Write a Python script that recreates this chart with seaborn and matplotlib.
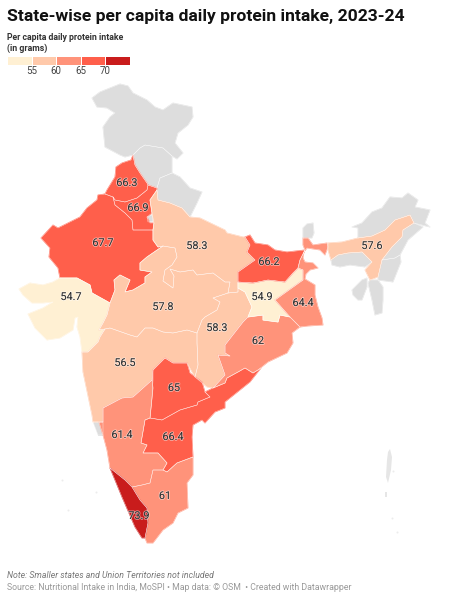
import matplotlib
matplotlib.use("Agg")
import matplotlib.pyplot as plt
import matplotlib.patheffects as pe
from matplotlib.colors import ListedColormap
import seaborn as sns
import numpy as np
import pandas as pd

sns.set_theme(style="white")
plt.rcParams['font.family'] = ['Roboto', 'DejaVu Sans']

# legend
bin_edges = [55, 60, 65, 70]
bin_colors = ['#fff0d3', '#ffc9aa', '#ff937a', '#ff5f4b', '#c91c1c']
no_data = '#dddddd'

# state values
state_names = ['Punjab', 'Haryana', 'Rajasthan', 'Uttar Pradesh', 'Gujarat', 'Madhya Pradesh',
               'Chhattisgarh', 'Maharashtra', 'Telangana', 'Andhra Pradesh', 'Karnataka',
               'Tamil Nadu', 'Kerala', 'Odisha', 'Jharkhand', 'Bihar', 'West Bengal', 'Assam']
state_values = [66.3, 66.9, 67.7, 58.3, 54.7, 57.8, 58.3, 56.5, 65, 66.4, 61.4, 61, 73.9, 62, 54.9, 66.2, 64.4, 57.6]
label_x = [127, 138, 103, 197, 71, 163, 217, 125, 174, 173, 122, 165, 139, 258, 262, 269, 303, 372]
label_y = [183, 208, 243, 246, 297, 307, 328, 363, 388, 437, 435, 496, 516, 341, 297, 262, 303, 246]

punjab = [(133, 155), (131, 160), (122, 163), (116, 167), (115, 177), (107, 190), (105, 194), (113, 197), (115, 200),
          (125, 202), (137, 198), (147, 190), (148, 185), (147, 183), (140, 173), (135, 165)]
haryana = [(113, 197), (115, 200), (125, 202), (137, 198), (147, 190), (148, 185), (157, 188), (157, 190), (150, 200),
           (152, 213), (147, 217), (150, 223), (154, 223), (153, 230), (148, 230), (133, 230), (132, 220), (125, 213),
           (115, 205)]
rajasthan = [(105, 194), (113, 197), (115, 205), (125, 213), (132, 220), (133, 230), (148, 230), (153, 230), (153, 240),
             (158, 247), (163, 246), (147, 257), (140, 263), (140, 270), (152, 272), (145, 277), (145, 283), (133, 290),
             (125, 292), (130, 280), (120, 275), (114, 280), (115, 290), (110, 303), (92, 293), (90, 285), (77, 278),
             (60, 278), (58, 268), (49, 257), (50, 248), (41, 238), (53, 225), (58, 228), (80, 217), (87, 208),
             (97, 200), (98, 195)]
uttar_pradesh = [(157, 190), (150, 200), (152, 213), (154, 223), (153, 230), (153, 240), (158, 247), (163, 246),
                 (175, 248), (177, 257), (172, 265), (165, 270), (163, 281), (173, 288), (174, 276), (170, 269),
                 (180, 272), (193, 270), (197, 275), (213, 273), (225, 282), (230, 282), (228, 293), (238, 292),
                 (238, 272), (255, 260), (247, 252), (250, 245), (245, 237), (243, 237), (227, 233), (225, 230),
                 (200, 218), (190, 217), (182, 208), (170, 203), (158, 200)]
gujarat = [(19, 289), (30, 283), (43, 285), (53, 282), (60, 278), (77, 278), (90, 285), (92, 293), (110, 303), (107, 315),
           (103, 323), (99, 330), (105, 329), (100, 337), (98, 342), (88, 352), (82, 352), (80, 337), (77, 327),
           (78, 317), (75, 318), (73, 330), (60, 338), (47, 340), (35, 328), (28, 314), (43, 308), (53, 302),
           (43, 303), (32, 303), (23, 295)]
madhya_pradesh = [(163, 246), (147, 257), (140, 263), (140, 270), (152, 272), (145, 277), (145, 283), (133, 290),
                  (125, 292), (130, 280), (120, 275), (114, 280), (115, 290), (110, 303), (107, 315), (103, 323),
                  (99, 330), (105, 329), (110, 328), (130, 335), (137, 337), (145, 328), (153, 328), (163, 332),
                  (173, 333), (187, 330), (197, 333), (202, 320), (205, 317), (217, 310), (220, 302), (213, 298),
                  (228, 293), (230, 282), (225, 282), (213, 273), (197, 275), (193, 270), (180, 272), (170, 269),
                  (174, 276), (173, 288), (163, 281), (165, 270), (172, 265), (177, 257), (175, 248)]
chhattisgarh = [(228, 293), (213, 298), (220, 302), (217, 310), (205, 317), (202, 320), (197, 333), (197, 343),
                (198, 365), (195, 377), (207, 387), (213, 388), (225, 375), (218, 355), (230, 356), (225, 353),
                (225, 345), (243, 322), (248, 317), (252, 307), (245, 292), (238, 288), (238, 292)]
maharashtra = [(82, 352), (83, 372), (92, 415), (93, 422), (103, 422), (103, 408), (122, 398), (133, 397), (152, 380),
               (153, 370), (165, 358), (173, 363), (187, 363), (195, 377), (198, 365), (197, 343), (197, 333),
               (187, 330), (173, 333), (163, 332), (153, 328), (145, 328), (137, 337), (130, 335), (110, 328),
               (105, 329), (100, 337), (98, 342), (88, 352)]
telangana = [(165, 358), (173, 363), (187, 363), (190, 373), (202, 382), (205, 392), (210, 397), (198, 402), (197, 405),
             (180, 410), (162, 420), (150, 418), (152, 398), (153, 380), (153, 370)]
andhra_pradesh = [(205, 392), (213, 388), (225, 383), (227, 378), (238, 372), (245, 368), (253, 373), (261, 368), (250, 382),
                  (240, 390), (225, 402), (225, 408), (215, 412), (205, 423), (202, 420), (193, 425), (192, 437),
                  (193, 457), (177, 463), (167, 472), (163, 470), (167, 463), (158, 453), (150, 453), (143, 453),
                  (147, 445), (141, 443), (145, 420), (150, 418), (162, 420), (180, 410), (197, 405), (198, 402),
                  (210, 397)]
karnataka = [(103, 408), (122, 398), (133, 397), (152, 380), (153, 388), (152, 398), (150, 418), (145, 420), (141, 443),
             (147, 445), (143, 453), (158, 453), (167, 463), (163, 470), (153, 470), (150, 483), (142, 485), (132, 487),
             (125, 480), (110, 468), (107, 450), (103, 435), (99, 422), (103, 422)]
tamil_nadu = [(193, 457), (193, 475), (187, 483), (188, 508), (178, 513), (173, 523), (163, 530), (153, 543), (147, 543),
              (145, 538), (148, 523), (147, 508), (140, 500), (132, 487), (142, 485), (150, 483), (153, 470), (163, 470),
              (167, 472), (177, 463)]
kerala = [(110, 468), (125, 480), (132, 487), (140, 500), (147, 508), (148, 523), (145, 538), (142, 538), (135, 527),
          (122, 497), (115, 480)]
odisha = [(243, 322), (248, 317), (263, 315), (263, 320), (278, 322), (280, 315), (290, 317), (300, 327), (292, 333),
          (293, 343), (287, 353), (268, 362), (258, 370), (253, 373), (245, 368), (238, 372), (227, 378), (225, 383),
          (213, 388), (225, 375), (218, 355), (230, 356), (225, 353), (225, 345)]
jharkhand = [(238, 282), (253, 283), (268, 280), (285, 282), (293, 273), (298, 268), (303, 270), (303, 280), (275, 300),
             (290, 317), (280, 315), (278, 322), (263, 320), (263, 315), (248, 317), (252, 307), (245, 292), (238, 288)]
bihar = [(245, 237), (250, 235), (255, 243), (268, 245), (275, 250), (287, 252), (305, 250), (300, 260), (298, 268),
         (293, 273), (285, 282), (268, 280), (253, 283), (238, 282), (238, 272), (255, 260), (247, 252), (250, 245)]
west_bengal = [(303, 238), (308, 238), (313, 245), (327, 243), (328, 247), (325, 255), (320, 250), (307, 248), (304, 252),
               (303, 258), (305, 262), (313, 263), (318, 268), (310, 270), (306, 274), (305, 279), (315, 285), (315, 295),
               (318, 307), (322, 318), (323, 325), (308, 326), (300, 327), (290, 317), (275, 300), (303, 280), (303, 270),
               (298, 268), (300, 260), (305, 250), (303, 245)]
assam = [(328, 243), (342, 242), (358, 238), (372, 236), (385, 230), (395, 220), (410, 215), (414, 223), (403, 230),
         (402, 237), (392, 247), (382, 260), (378, 277), (370, 280), (365, 270), (372, 262), (362, 252), (348, 253),
         (338, 255), (331, 260), (328, 250)]
state_shapes = [punjab, haryana, rajasthan, uttar_pradesh, gujarat, madhya_pradesh, chhattisgarh, maharashtra, telangana,
                andhra_pradesh, karnataka, tamil_nadu, kerala, odisha, jharkhand, bihar, west_bengal, assam]

# grey, not in the data
jammu_kashmir = [(92, 98), (100, 92), (110, 88), (120, 84), (128, 86), (133, 93), (147, 100), (155, 107), (163, 110),
                 (173, 103), (192, 107), (193, 117), (188, 125), (178, 133), (175, 143), (183, 153), (177, 159), (172, 156),
                 (163, 148), (157, 147), (145, 145), (140, 148), (133, 155), (125, 157), (120, 155), (105, 147), (103, 127),
                 (110, 117), (115, 113), (107, 108), (97, 107)]
himachal = [(133, 155), (140, 148), (145, 145), (157, 147), (163, 148), (172, 156), (172, 173), (160, 178), (157, 188),
            (148, 185), (147, 183), (140, 173), (135, 165)]
uttarakhand = [(157, 188), (160, 178), (172, 173), (180, 177), (190, 188), (202, 192), (197, 203), (190, 217), (182, 208),
               (170, 203), (158, 200), (157, 190)]
delhi = [(147, 217), (152, 215), (153, 221), (148, 222)]
goa = [(93, 422), (103, 422), (103, 435), (98, 435)]
sikkim = [(303, 228), (307, 224), (313, 223), (314, 233), (312, 238), (303, 238)]
arunachal = [(352, 227), (362, 223), (372, 212), (382, 208), (390, 197), (402, 198), (408, 193), (418, 200), (415, 207),
             (430, 210), (425, 223), (430, 227), (414, 223), (410, 215), (395, 220), (385, 230), (372, 236), (358, 238),
             (358, 228)]
meghalaya = [(331, 260), (338, 255), (348, 253), (362, 252), (372, 262), (365, 267), (350, 265), (340, 267), (332, 265)]
nagaland = [(403, 230), (414, 223), (423, 227), (408, 240), (400, 255), (395, 258), (382, 260), (392, 247), (402, 237)]
manipur = [(382, 260), (395, 258), (400, 255), (401, 262), (393, 282), (378, 280), (378, 277)]
mizoram = [(368, 283), (370, 280), (378, 280), (383, 287), (383, 300), (382, 313), (375, 315), (372, 300)]
tripura = [(352, 290), (362, 280), (367, 278), (367, 287), (362, 300), (358, 300), (353, 295)]
andaman = [(390, 449), (392, 457), (391, 470), (388, 483), (386, 477), (387, 460), (388, 452)]
little_andaman = [(385, 492), (387, 492), (387, 497), (385, 497)]
grey_shapes = [jammu_kashmir, himachal, uttarakhand, delhi, goa, sikkim, arunachal, meghalaya, nagaland, manipur,
               mizoram, tripura]
island_shapes = [andaman, little_andaman]
dot_x = [392, 397, 62, 68, 96, 393]
dot_y = [518, 532, 480, 510, 492, 471]

fig = plt.figure(figsize=(4.5, 6), dpi=100, facecolor='white')
ax = fig.add_axes([0, 0, 1, 1])
ax.set_xlim(0, 450)
ax.set_ylim(600, 0)
ax.axis('off')


def draw_shape(shape, colour):
    # own-colour edge closes the hairline gaps between traced neighbours
    xs, ys = zip(*shape)
    ax.fill(xs, ys, facecolor=colour, edgecolor=colour, linewidth=0.6, joinstyle='round')


def draw_border(shape):
    xs, ys = zip(*(shape + shape[:1]))
    ax.plot(xs, ys, color='white', linewidth=0.35, alpha=0.7)


df = pd.DataFrame({'state': state_names, 'value': state_values, 'x': label_x, 'y': label_y})
df['bin'] = np.digitize(df['value'], bin_edges)

for shape in grey_shapes:
    draw_shape(shape, no_data)
for shape in island_shapes:
    xs, ys = zip(*shape)
    ax.fill(xs, ys, facecolor='#e6e6e6', edgecolor='none')
sns.scatterplot(x=dot_x, y=dot_y, s=2, color='#ececec', linewidth=0, ax=ax, legend=False)
for shape, b in zip(state_shapes, df['bin']):
    draw_shape(shape, bin_colors[b])
for shape in grey_shapes + state_shapes:
    draw_border(shape)

for _, row in df.iterrows():
    txt = ax.text(row['x'], row['y'], f"{row['value']:g}", ha='center', va='center', fontsize=7.8, color='#333333')
    txt.set_path_effects([pe.withStroke(linewidth=1.2, foreground=(1, 1, 1, 0.5))])

# titles
ax.text(7, 17, 'State-wise per capita daily protein intake, 2023-24', fontsize=12.58, fontweight='bold',
        color='#111111', ha='left', va='center')
ax.text(7, 38, 'Per capita daily protein intake', fontsize=6.3, fontweight='bold', color='#333333', ha='left', va='center')
ax.text(7, 48, '(in grams)', fontsize=6.3, fontweight='bold', color='#333333', ha='left', va='center')
ax.text(7, 575, 'Note: Smaller states and Union Territories not included', fontsize=6.3, style='italic',
        color='#777777', ha='left', va='center')
ax.text(7, 588, 'Source: Nutritional Intake in India, MoSPI • Map data: © OSM  • Created with Datawrapper', fontsize=6.3,
        color='#999999', ha='left', va='center')

# colour key
cax = fig.add_axes([7 / 450, 1 - 65 / 600, 123 / 450, 9 / 600])
sns.heatmap(np.arange(5).reshape(1, 5), cmap=ListedColormap(bin_colors), cbar=False, linewidths=0.6, linecolor='white',
            ax=cax, xticklabels=False, yticklabels=False)
cax.set_xticks(range(1, 5))
cax.set_xticklabels(bin_edges, fontsize=7, color='#444444')
cax.tick_params(axis='x', length=0, pad=1)

fig.savefig('out.png', dpi=100)
